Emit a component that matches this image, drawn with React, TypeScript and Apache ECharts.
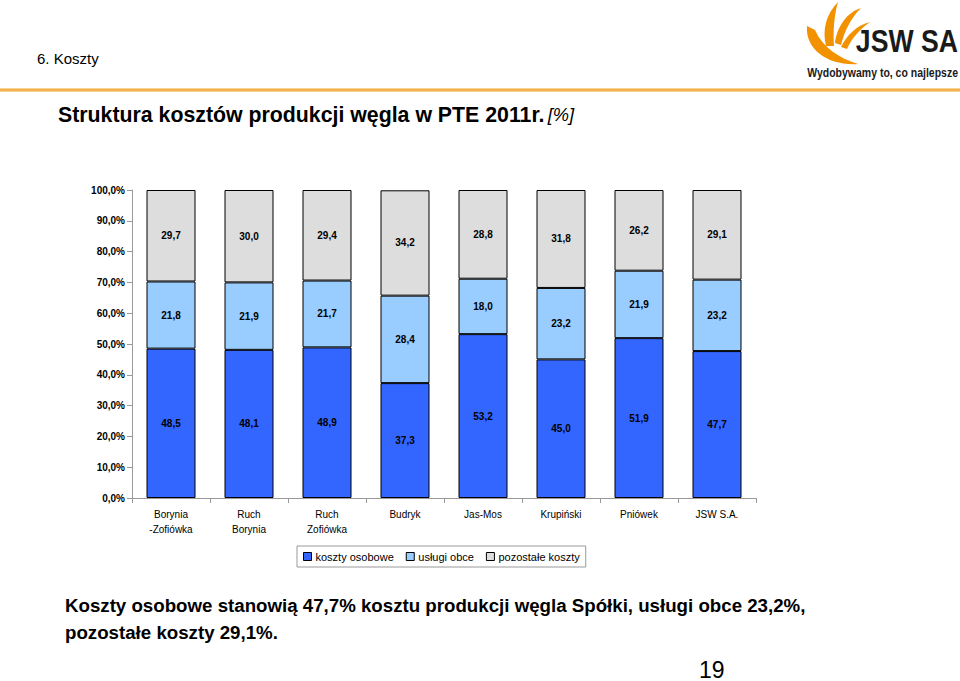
import React, { useEffect, useRef } from "react";
import * as echarts from "echarts";

const categories = [
  "Borynia\n-Zofiówka",
  "Ruch\nBorynia",
  "Ruch\nZofiówka",
  "Budryk",
  "Jas-Mos",
  "Krupiński",
  "Pniówek",
  "JSW S.A.",
];
const kosztyOsobowe = [48.5, 48.1, 48.9, 37.3, 53.2, 45.0, 51.9, 47.7];
const uslugiObce = [21.8, 21.9, 21.7, 28.4, 18.0, 23.2, 21.9, 23.2];
const pozostaleKoszty = [29.7, 30.0, 29.4, 34.2, 28.8, 31.8, 26.2, 29.1];
const seriesNames = ["koszty osobowe", "usługi obce", "pozostałe koszty"];

const FONT = 'Arial, "Liberation Sans", sans-serif';

const flamePath =
  "M6 26 C4 50 28 66 57 64 C38 58 22 48 14 30 Z " +
  "M25 46 C21 30 25 14 37 2 C33 16 32 32 33 46 Z " +
  "M34 43 C36 27 46 12 60 8 C50 18 44 30 40 45 Z " +
  "M40 47 C46 35 56 25 69 22 C58 30 51 38 46 49 Z";

let registered = false;

export default function App() {
  const ref = useRef<HTMLDivElement>(null);
  useEffect(() => {
    if (!ref.current) return;
    if (!registered) {
      echarts.graphic.registerShape("flame", echarts.graphic.extendPath(flamePath, {}));
      registered = true;
    }
    const chart = echarts.init(ref.current, null, { renderer: "svg" });
    const fmt = (p: any) => Number(p.value).toFixed(1).replace(".", ",");
    const label = {
      show: true,
      position: "inside",
      formatter: fmt,
      color: "#000",
      fontWeight: "bold",
      fontSize: 10,
      fontFamily: FONT,
    };
    const colors = ["#3366FF", "#99CCFF", "#DDDDDD"];
    const data = [kosztyOsobowe, uslugiObce, pozostaleKoszty];
    chart.setOption({
      animation: false,
      backgroundColor: "#fff",
      grid: { left: 132, right: 204, top: 190, bottom: 183, containLabel: false },
      legend: {
        left: 297,
        top: 546,
        width: 290,
        height: 22,
        padding: [5, 6, 5, 6],
        borderColor: "#999",
        borderWidth: 1,
        itemWidth: 8,
        itemHeight: 8,
        itemGap: 12,
        icon: "rect",
        textStyle: { fontSize: 11, fontFamily: FONT, color: "#000", padding: [0, 0, 0, -1] },
        data: seriesNames.map((n, i) => ({
          name: n,
          itemStyle: { color: colors[i], borderColor: "#000", borderWidth: 1 },
        })),
      },
      xAxis: {
        type: "category",
        data: categories,
        axisLine: { lineStyle: { color: "#999" } },
        axisTick: { show: true, length: 5, lineStyle: { color: "#999" } },
        axisLabel: { fontSize: 10, color: "#000", fontFamily: FONT, margin: 9, lineHeight: 15 },
      },
      yAxis: {
        type: "value",
        min: 0,
        max: 100,
        interval: 10,
        axisLine: { show: true, lineStyle: { color: "#999" } },
        axisTick: { show: true, length: 5, lineStyle: { color: "#999" } },
        splitLine: { show: false },
        axisLabel: {
          fontSize: 10,
          fontWeight: "bold",
          color: "#000",
          fontFamily: FONT,
          margin: 7,
          formatter: (v: number) => v.toFixed(1).replace(".", ",") + "%",
        },
      },
      series: data.map((d, i) => ({
        name: seriesNames[i],
        type: "bar",
        stack: "total",
        barWidth: 49,
        data: d,
        itemStyle: { color: colors[i], borderColor: "#000", borderWidth: 1 },
        label,
      })),
      graphic: [
        {
          type: "rect",
          left: 0,
          top: 88,
          shape: { width: 960, height: 4 },
          style: {
            fill: new echarts.graphic.LinearGradient(0, 0, 0, 1, [
              { offset: 0, color: "#FBE3B0" },
              { offset: 0.5, color: "#F0A030" },
              { offset: 1, color: "#FBE3B0" },
            ]),
          },
          silent: true,
        },
        {
          type: "text",
          left: 37,
          top: 51,
          style: { text: "6. Koszty", fontSize: 15, fontFamily: FONT, fill: "#000" },
        },
        {
          type: "text",
          left: 58,
          top: 104,
          style: {
            text: "{b|Struktura kosztów produkcji węgla w PTE 2011r.} {i|[%]}",
            rich: {
              b: { fontSize: 21.3, fontWeight: "bold", fontFamily: FONT, fill: "#000" },
              i: { fontSize: 18.3, fontStyle: "italic", fontFamily: FONT, fill: "#000" },
            },
          },
        },
        {
          type: "text",
          left: 65,
          top: 592,
          style: {
            text:
              "Koszty osobowe stanowią 47,7% kosztu produkcji węgla Spółki, usługi obce 23,2%,\npozostałe koszty 29,1%.",
            fontSize: 18.7,
            fontWeight: "bold",
            fontFamily: FONT,
            lineHeight: 27,
            fill: "#000",
          },
        },
        {
          type: "text",
          left: 699,
          top: 658,
          style: { text: "19", fontSize: 23, fontFamily: FONT, fill: "#000" },
        },
        {
          type: "flame",
          x: 801,
          y: 0,
          style: { fill: "#F39200" },
        },
        {
          type: "text",
          x: 958,
          y: 26,
          scaleX: 0.86,
          style: {
            text: "JSW SA",
            fontSize: 31,
            fontWeight: "bold",
            fontFamily: FONT,
            fill: "#1a1a1a",
            align: "right",
            verticalAlign: "top",
          },
        },
        {
          type: "text",
          x: 958,
          y: 66,
          scaleX: 0.84,
          style: {
            text: "Wydobywamy to, co najlepsze",
            fontSize: 12.5,
            fontWeight: "bold",
            fontFamily: FONT,
            fill: "#1a1a1a",
            align: "right",
            verticalAlign: "top",
          },
        },
      ],
    });
    return () => chart.dispose();
  }, []);
  return (
    <div
      ref={ref}
      style={{ position: "fixed", left: 0, top: 0, width: 960, height: 681, background: "#fff" }}
    />
  );
}
